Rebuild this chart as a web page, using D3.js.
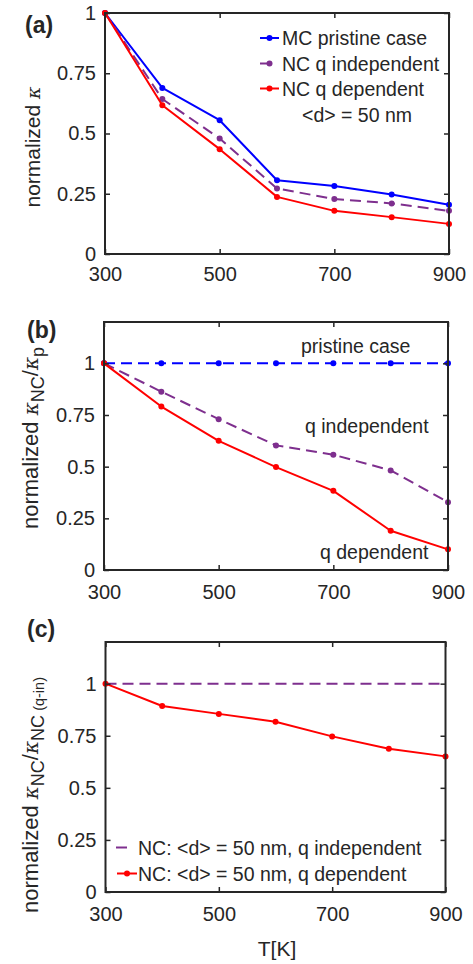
<!DOCTYPE html>
<html>
<head>
<meta charset="utf-8">
<script src="https://cdn.jsdelivr.net/npm/d3@7"></script>
<style>
  html, body { margin: 0; padding: 0; background: #fff; }
  svg { display: block; }
  text { font-family: "Liberation Sans", Arial, sans-serif; fill: #262626; }
</style>
</head>
<body>
<svg id="fig" width="473" height="964"></svg>
<script>
// Temperatures (K) shared by all three panels
const temperatures = [300, 400, 500, 600, 700, 800, 900];
const xTickValues = [300, 500, 700, 900];
const yTickValues = [0, 0.25, 0.5, 0.75, 1];
const yTickLabels = ["0", "0.25", "0.5", "0.75", "1"];

// (a) normalized conductivity
const aMcPristine   = [1, 0.689, 0.555, 0.306, 0.282, 0.247, 0.204];
const aNcQIndep     = [1, 0.643, 0.479, 0.272, 0.228, 0.210, 0.179];
const aNcQDep       = [1, 0.617, 0.435, 0.237, 0.179, 0.153, 0.125];

// (b) kappa_NC / kappa_pristine
const bPristine     = [1, 1, 1, 1, 1, 1, 1];
const bQIndep       = [1, 0.863, 0.730, 0.603, 0.558, 0.482, 0.328];
const bQDep         = [1, 0.791, 0.625, 0.498, 0.383, 0.190, 0.100];

// (c) kappa_NC / kappa_NC(q-independent)
const cQIndep       = [1, 1, 1, 1, 1, 1, 1];
const cQDep         = [1, 0.893, 0.855, 0.817, 0.747, 0.688, 0.651];

const BLUE = "#0000ff", PURPLE = "#7e2f8e", RED = "#ff0000", AXIS = "#262626";
const DASH = "11,6";

const svg = d3.select("#fig");

function panel(cfg) {
  const x = d3.scaleLinear().domain([300, 900]).range([cfg.left, cfg.right]);
  const y = d3.scaleLinear().domain(cfg.yDomain).range([cfg.bottom, cfg.top]);
  const g = svg.append("g");

  // series
  const line = d3.line().x((d, i) => x(temperatures[i])).y(d => y(d));
  cfg.series.forEach(s => {
    g.append("path").datum(s.values)
      .attr("d", line)
      .attr("fill", "none")
      .attr("stroke", s.color)
      .attr("stroke-width", 2)
      .attr("stroke-dasharray", s.dashed ? DASH : null)
      .attr("stroke-linejoin", "round");
    if (s.markers) {
      g.selectAll(null).data(s.values).enter().append("circle")
        .attr("cx", (d, i) => x(temperatures[i]))
        .attr("cy", d => y(d))
        .attr("r", 3)
        .attr("fill", s.color);
    }
  });

  // axes with inward ticks on all four sides
  const tickLen = 5;
  const bottomAxis = d3.axisBottom(x).tickValues(xTickValues).tickSize(-tickLen).tickPadding(cfg.xPad);
  const topAxis = d3.axisTop(x).tickValues(xTickValues).tickSize(-tickLen).tickFormat("");
  const leftAxis = d3.axisLeft(y).tickValues(yTickValues).tickSize(-tickLen)
    .tickPadding(9).tickFormat((d, i) => yTickLabels[i]);
  const rightAxis = d3.axisRight(y).tickValues(yTickValues).tickSize(-tickLen).tickFormat("");

  const axes = [
    g.append("g").attr("transform", `translate(0,${cfg.bottom})`).call(bottomAxis),
    g.append("g").attr("transform", `translate(0,${cfg.top})`).call(topAxis),
    g.append("g").attr("transform", `translate(${cfg.left},0)`).call(leftAxis),
    g.append("g").attr("transform", `translate(${cfg.right},0)`).call(rightAxis)
  ];
  axes.forEach(a => {
    a.select(".domain").remove();
    a.selectAll(".tick line").attr("stroke", AXIS).attr("stroke-width", 1.5);
    a.selectAll(".tick text").attr("fill", AXIS).style("font-size", "20px")
      .style("font-family", "'Liberation Sans', Arial, sans-serif");
  });

  // box
  g.append("rect")
    .attr("x", cfg.left).attr("y", cfg.top)
    .attr("width", cfg.right - cfg.left).attr("height", cfg.bottom - cfg.top)
    .attr("fill", "none").attr("stroke", AXIS).attr("stroke-width", 2);

  // panel tag
  g.append("text").attr("x", cfg.tagX).attr("y", cfg.tagY)
    .style("font-size", "23px").style("font-weight", "bold").text(cfg.tag);

  // y label (rotated)
  const yl = g.append("text")
    .attr("transform", `translate(${cfg.ylabelX},${cfg.ylabelY}) rotate(-90)`)
    .attr("text-anchor", "middle")
    .style("font-size", cfg.ylabelSize + "px");
  cfg.ylabel(yl);

  return { x, y, g };
}

function kappa(t, size) {
  return t.append("tspan").style("font-style", "italic").style("font-family", "'DejaVu Serif', serif")
    .style("font-size", size + "px").text("κ");
}
function sub(t, txt, size) {
  return t.append("tspan").attr("dy", 6).style("font-size", size + "px").text(txt);
}

// ---------- (a) ----------
const pa = panel({
  left: 105, right: 449, top: 13, bottom: 254, yDomain: [0, 1], xPad: 13,
  tag: "(a)", tagX: 25, tagY: 33,
  ylabelX: 39.5, ylabelY: 147, ylabelSize: 21,
  ylabel: t => { t.append("tspan").text("normalized "); kappa(t, 19); },
  series: [
    { values: aMcPristine, color: BLUE, markers: true },
    { values: aNcQIndep, color: PURPLE, dashed: true, markers: true },
    { values: aNcQDep, color: RED, markers: true }
  ]
});
// legend for (a)
const legA = [
  { label: "MC pristine case", color: BLUE, dashed: false, y: 38 },
  { label: "NC q independent", color: PURPLE, dashed: true, y: 63.5 },
  { label: "NC q dependent", color: RED, dashed: false, y: 88.5 }
];
legA.forEach(d => {
  pa.g.append("line").attr("x1", 260).attr("x2", 279).attr("y1", d.y).attr("y2", d.y)
    .attr("stroke", d.color).attr("stroke-width", 2)
    .attr("stroke-dasharray", d.dashed ? "9,20" : null);
  pa.g.append("circle").attr("cx", 269.5).attr("cy", d.y).attr("r", 3).attr("fill", d.color);
  pa.g.append("text").attr("x", 282).attr("y", d.y + 7).style("font-size", "19.5px").text(d.label);
});
pa.g.append("text").attr("x", 302).attr("y", 122).style("font-size", "19.5px").text("<d> = 50 nm");

// ---------- (b) ----------
const pb = panel({
  left: 104, right: 448, top: 322, bottom: 570, yDomain: [0, 1.2], xPad: 15,
  tag: "(b)", tagX: 27, tagY: 338,
  ylabelX: 38, ylabelY: 438, ylabelSize: 22,
  ylabel: t => {
    t.append("tspan").text("normalized ");
    kappa(t, 20);
    sub(t, "NC", 18);
    t.append("tspan").attr("dy", -6).text("/");
    kappa(t, 20);
    sub(t, "p", 18);
  },
  series: [
    { values: bPristine, color: BLUE, dashed: true, markers: true },
    { values: bQIndep, color: PURPLE, dashed: true, markers: true },
    { values: bQDep, color: RED, markers: true }
  ]
});
pb.g.append("text").attr("x", 301).attr("y", 353).style("font-size", "19.5px").text("pristine case");
pb.g.append("text").attr("x", 305).attr("y", 433).style("font-size", "19.5px").text("q independent");
pb.g.append("text").attr("x", 320).attr("y", 559).style("font-size", "19.5px").text("q dependent");

// ---------- (c) ----------
const pc = panel({
  left: 105.5, right: 445.5, top: 642, bottom: 892, yDomain: [0, 1.2], xPad: 15,
  tag: "(c)", tagX: 27, tagY: 637,
  ylabelX: 38, ylabelY: 795, ylabelSize: 22,
  ylabel: t => {
    t.append("tspan").text("normalized ");
    kappa(t, 20);
    sub(t, "NC", 18);
    t.append("tspan").attr("dy", -6).text("/");
    kappa(t, 20);
    sub(t, "NC", 18);
    t.append("tspan").style("font-size", "14.5px").text(" (q-in)");
  },
  series: [
    { values: cQIndep, color: PURPLE, dashed: true, markers: false },
    { values: cQDep, color: RED, markers: true }
  ]
});
// legend for (c)
const legC = [
  { label: "NC: <d> = 50 nm, q independent", color: PURPLE, dashed: true, markers: false, y: 847.5 },
  { label: "NC: <d> = 50 nm, q dependent", color: RED, dashed: false, markers: true, y: 873.5 }
];
legC.forEach(d => {
  pc.g.append("line").attr("x1", d.dashed ? 116 : 117).attr("x2", d.dashed ? 127 : 137)
    .attr("y1", d.y).attr("y2", d.y)
    .attr("stroke", d.color).attr("stroke-width", 2);
  if (d.markers) pc.g.append("circle").attr("cx", 127).attr("cy", d.y).attr("r", 3).attr("fill", d.color);
  pc.g.append("text").attr("x", 138).attr("y", d.y + 7).style("font-size", "19.5px").text(d.label);
});

// x-axis title
svg.append("text").attr("x", 277).attr("y", 956).attr("text-anchor", "middle")
  .style("font-size", "21px").text("T[K]");
</script>
</body>
</html>
